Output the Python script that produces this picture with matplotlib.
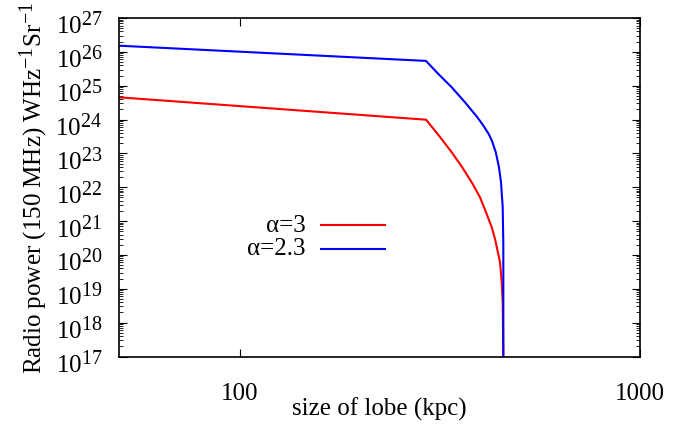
import matplotlib
matplotlib.use("Agg")
import matplotlib.pyplot as plt
import matplotlib.transforms as mtransforms
import matplotlib._mathtext as _mathtext
from matplotlib.ticker import FixedLocator, FuncFormatter, LogLocator, NullLocator, NullFormatter
import numpy as np

plt.rcParams['font.family'] = ['Liberation Serif', 'DejaVu Serif']
plt.rcParams['mathtext.fontset'] = 'custom'
plt.rcParams['mathtext.rm'] = 'Liberation Serif'
plt.rcParams['mathtext.it'] = 'Liberation Serif:italic'
plt.rcParams['mathtext.bf'] = 'Liberation Serif:bold'
# slightly larger exponents, in the style of gnuplot's enhanced text
_mathtext.SHRINK_FACTOR = 0.8

FS = 18

# Lobe size (kpc) and radio power (W/Hz/sr) for the two injection indices
size_a3 = [50, 292.2, 313.6, 338.7, 358.7, 381.6, 398.5, 414.1, 426.3, 434.5,
           447.1, 451.5, 454.1, 454.9, 455.7, 455.8]
power_a3 = [4.54e24, 9.9e23, 3.54e23, 1.08e23, 4.10e22, 1.29e22, 5.05e21, 1.62e21,
            6.56e20, 2.96e20, 6.07e19, 1.56e19, 3.99e18, 6.49e17, 1e17, 1e16]

size_a23 = [50, 292.2, 313.6, 338.7, 365.6, 391.1, 406.2, 419.7, 427.0, 436.4,
            444.5, 449.7, 454.1, 455.7, 455.8]
power_a23 = [1.52e26, 5.4e25, 2.22e25, 8.97e24, 3.23e24, 1.23e24, 6.67e23, 3.61e23,
             2.32e23, 1.08e23, 3.88e22, 1.40e22, 2.56e21, 2.1e20, 1e16]

labels = ['α=3', 'α=2.3']
colors = ['#ff0000', '#0000ff']

x_ticks = [100, 1000]
y_exponents = list(range(17, 28))

fig = plt.figure(figsize=(6.82, 4.27), dpi=100)
ax = fig.add_axes([119/682, 1 - 357.5/427, (640 - 119)/682, (357.5 - 19)/427])

series = [(size_a3, power_a3), (size_a23, power_a23)]
for (xs, ys), c in zip(series, colors):
    ax.plot(xs, ys, color=c, lw=1.5, solid_joinstyle='round')

ax.set_xscale('log')
ax.set_yscale('log')
ax.set_xlim(50, 1000)
ax.set_ylim(1e17, 1e27)

ax.xaxis.set_major_locator(FixedLocator(x_ticks))
ax.xaxis.set_minor_locator(NullLocator())
ax.xaxis.set_major_formatter(FuncFormatter(lambda v, p: f"{int(v)}"))

ax.yaxis.set_major_locator(FixedLocator([10.0**e for e in y_exponents]))
ax.yaxis.set_minor_locator(LogLocator(base=10, subs=np.arange(2, 10), numticks=30))
ax.yaxis.set_minor_formatter(NullFormatter())
ax.yaxis.set_major_formatter(FuncFormatter(
    lambda v, p: r"$\mathregular{10^{%d}}$" % round(np.log10(v))))

ax.tick_params(which='both', direction='in', top=True, right=True, labelsize=FS)
ax.tick_params(which='major', length=6, width=0.8)
ax.tick_params(which='minor', length=3, width=0.6)
ax.tick_params(axis='y', pad=12)
ax.tick_params(axis='x', pad=18)
for s in ax.spines.values():
    s.set_linewidth(1.2)

# Nudge the power-of-ten labels down so the mantissa sits on the tick
shift = mtransforms.ScaledTranslation(0, -3/72, fig.dpi_scale_trans)
for lbl in ax.get_yticklabels():
    lbl.set_transform(lbl.get_transform() + shift)

ax.set_xlabel('size of lobe (kpc)', fontsize=FS, labelpad=-5)
ax.set_ylabel(r'Radio power (150 MHz) WHz$^{\mathregular{-1}}$Sr$^{\mathregular{-1}}$',
              fontsize=FS, labelpad=5)

# Key: label right-aligned next to a short line sample
key_y = [226, 249.5]
for lab, c, yp in zip(labels, colors, key_y):
    yf = 1 - yp/427
    fig.text(306/682, yf, lab, ha='right', va='center', fontsize=FS)
    fig.add_artist(plt.Line2D([321/682, 385/682], [yf, yf], color=c, lw=1.5))

fig.savefig('out.png', dpi=100)
